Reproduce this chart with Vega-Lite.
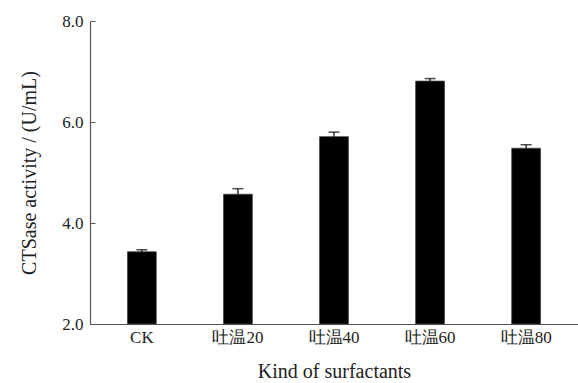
{
  "$schema": "https://vega.github.io/schema/vega-lite/v6.json",
  "autosize": {"type": "none"},
  "padding": {"left": 90, "top": 21, "right": 0, "bottom": 59},
  "width": 488,
  "height": 303,
  "background": "white",
  "data": {
    "values": [
      {"kind": "CK", "activity": 3.43, "upper": 3.47},
      {"kind": "吐温20", "activity": 4.57, "upper": 4.68},
      {"kind": "吐温40", "activity": 5.71, "upper": 5.8},
      {"kind": "吐温60", "activity": 6.81, "upper": 6.86},
      {"kind": "吐温80", "activity": 5.48, "upper": 5.55}
    ]
  },
  "config": {
    "view": {"stroke": null},
    "font": "Liberation Serif",
    "axis": {"grid": false, "domainColor": "#555", "tickColor": "#555", "labelColor": "#222", "titleColor": "#222", "labelFont": "Liberation Serif", "titleFont": "Liberation Serif", "titleFontWeight": "normal"}
  },
  "encoding": {
    "x": {
      "field": "kind", "type": "nominal", "sort": null,
      "scale": {"paddingInner": 0.7, "paddingOuter": 0.39},
      "axis": {"title": "Kind of surfactants", "labelAngle": 0, "ticks": false, "labelPadding": 5, "labelFontSize": 17, "titleFontSize": 20, "titlePadding": 16, "domainWidth": 1.2}
    }
  },
  "layer": [
    {
      "mark": {"type": "bar", "color": "black", "stroke": "#444", "strokeWidth": 0.8},
      "encoding": {
        "y": {
          "field": "activity", "type": "quantitative",
          "scale": {"domain": [2, 8], "zero": false, "nice": false},
          "axis": {"title": "CTSase activity / (U/mL)", "values": [2, 4, 6, 8], "format": ".1f", "tickSize": -5, "labelPadding": 12, "labelFontSize": 17, "titleFontSize": 20, "titlePadding": 22, "domainWidth": 1.2}
        },
        "y2": {"datum": 2}
      }
    },
    {
      "mark": {"type": "rule", "color": "black", "strokeWidth": 1.2},
      "encoding": {
        "y": {"field": "activity", "type": "quantitative"},
        "y2": {"field": "upper"}
      }
    },
    {
      "mark": {"type": "tick", "color": "black", "thickness": 1.5, "size": 11},
      "encoding": {
        "y": {"field": "upper", "type": "quantitative"}
      }
    }
  ]
}
